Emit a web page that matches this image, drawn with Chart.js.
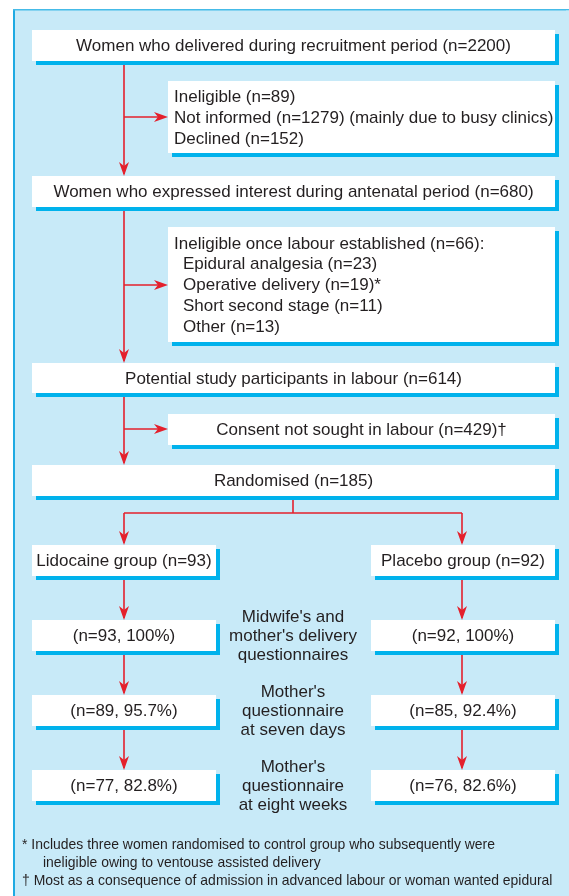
<!DOCTYPE html>
<html>
<head>
<meta charset="utf-8">
<script src="https://cdn.jsdelivr.net/npm/chart.js@4.4.1/dist/chart.umd.min.js"></script>
<style>
  html, body { margin: 0; padding: 0; background: #fff; overflow: hidden; }
  #flow { display: block; }
</style>
</head>
<body>
<canvas id="flow" width="569" height="896"></canvas>
<script>
// main stages of the flow
const stageLabels = ['Women who delivered during recruitment period', 'Women who expressed interest during antenatal period', 'Potential study participants in labour', 'Randomised'];
const stageCounts = [2200, 680, 614, 185];

// exclusions before antenatal interest
const earlyExclLabels = ['Ineligible', 'Not informed', 'Declined'];
const earlyExclCounts = [89, 1279, 152];
const earlyExclNotes = ['', ' (mainly due to busy clinics)', ''];

// exclusions once labour established
const labourExclTitle = 'Ineligible once labour established';
const labourExclTotal = 66;
const labourExclLabels = ['Epidural analgesia', 'Operative delivery', 'Short second stage', 'Other'];
const labourExclCounts = [23, 19, 11, 13];
const labourExclMarks = ['', '*', '', ''];

const consentLabel = 'Consent not sought in labour';
const consentCount = 429;

// arms and follow up
const groupLabels = ['Lidocaine group', 'Placebo group'];
const groupCounts = [93, 92];
const lidocaineN = [93, 89, 77];
const lidocainePct = [100, 95.7, 82.8];
const placeboN = [92, 85, 76];
const placeboPct = [100, 92.4, 82.6];
const followUpLabels = [
  ["Midwife's and", "mother's delivery", 'questionnaires'],
  ["Mother's", 'questionnaire', 'at seven days'],
  ["Mother's", 'questionnaire', 'at eight weeks']
];

const footnotes = [
  '* Includes three women randomised to control group who subsequently were',
  '    ineligible owing to ventouse assisted delivery',
  '\u2020 Most as a consequence of admission in advanced labour or woman wanted epidural'
];

const FONT = "'Liberation Sans', Arial, sans-serif";
const RED = '#e4202c';
const INK = '#231f20';
const PANEL = '#c8eaf8';

function nText(label, n) { return label + ' (n=' + n + ')'; }

// layout (in page units, mapped through the chart's scales)
const rowTops = [545, 620, 695, 770];
const leftCol = { x: 32, w: 184, cx: 124 };
const rightCol = { x: 371, w: 184, cx: 462 };

function buildBoxes() {
  const b = [];
  b.push({ x: 32, y: 30, w: 523, h: 31, lines: [nText(stageLabels[0], stageCounts[0])], align: 'center' });
  b.push({ x: 168, y: 81, w: 387, h: 72, lines: earlyExclLabels.map((l, i) => nText(l, earlyExclCounts[i]) + earlyExclNotes[i]), align: 'left', step: 21 });
  b.push({ x: 32, y: 176, w: 523, h: 31, lines: [nText(stageLabels[1], stageCounts[1])], align: 'center' });
  b.push({ x: 168, y: 227, w: 387, h: 115, lines: [nText(labourExclTitle, labourExclTotal) + ':'].concat(labourExclLabels.map((l, i) => nText(l, labourExclCounts[i]) + labourExclMarks[i])), align: 'left', step: 20.8, indent: 9 });
  b.push({ x: 32, y: 363, w: 523, h: 30, lines: [nText(stageLabels[2], stageCounts[2])], align: 'center' });
  b.push({ x: 168, y: 414, w: 387, h: 31, lines: [nText(consentLabel, consentCount) + '\u2020'], align: 'center' });
  b.push({ x: 32, y: 465, w: 523, h: 31, lines: [nText(stageLabels[3], stageCounts[3])], align: 'center' });
  b.push({ x: leftCol.x, y: rowTops[0], w: leftCol.w, h: 31, lines: [nText(groupLabels[0], groupCounts[0])], align: 'center' });
  b.push({ x: rightCol.x, y: rowTops[0], w: rightCol.w, h: 31, lines: [nText(groupLabels[1], groupCounts[1])], align: 'center' });
  for (let i = 0; i < 3; i++) {
    b.push({ x: leftCol.x, y: rowTops[i + 1], w: leftCol.w, h: 31, lines: ['(n=' + lidocaineN[i] + ', ' + lidocainePct[i] + '%)'], align: 'center' });
    b.push({ x: rightCol.x, y: rowTops[i + 1], w: rightCol.w, h: 31, lines: ['(n=' + placeboN[i] + ', ' + placeboPct[i] + '%)'], align: 'center' });
  }
  return b;
}

function arrowHead(ctx, x, y, dir) {
  // tip at (x, y)
  const len = 14, half = 5, notch = 4;
  ctx.beginPath();
  if (dir === 'down') {
    ctx.moveTo(x, y);
    ctx.lineTo(x - half, y - len);
    ctx.lineTo(x, y - len + notch);
    ctx.lineTo(x + half, y - len);
  } else {
    ctx.moveTo(x, y);
    ctx.lineTo(x - len, y - half);
    ctx.lineTo(x - len + notch, y);
    ctx.lineTo(x - len, y + half);
  }
  ctx.closePath();
  ctx.fill();
}

const flowPlugin = {
  id: 'flowPlugin',
  afterDraw(chart) {
    const ctx = chart.ctx;
    const sx = chart.scales.x, sy = chart.scales.y;
    const X = v => sx.getPixelForValue(v);
    const Y = v => sy.getPixelForValue(v);
    const W = ctx.canvas.width, H = ctx.canvas.height;
    ctx.save();

    // panel
    ctx.fillStyle = PANEL;
    ctx.fillRect(X(13), Y(9), W - X(13), H - Y(9));
    ctx.fillStyle = '#1eaae2';
    ctx.fillRect(X(13), Y(9), 2, H - Y(9));
    ctx.fillStyle = '#45bbe8';
    ctx.fillRect(X(13), Y(9), W - X(13), 1.5);

    // connector lines
    ctx.strokeStyle = RED;
    ctx.fillStyle = RED;
    ctx.lineWidth = 1.6;
    const seg = (x1, y1, x2, y2) => { ctx.beginPath(); ctx.moveTo(X(x1), Y(y1)); ctx.lineTo(X(x2), Y(y2)); ctx.stroke(); };
    seg(124, 61, 124, 174); arrowHead(ctx, X(124), Y(176), 'down');
    seg(124, 117, 165, 117); arrowHead(ctx, X(168), Y(117), 'right');
    seg(124, 207, 124, 361); arrowHead(ctx, X(124), Y(363), 'down');
    seg(124, 285, 165, 285); arrowHead(ctx, X(168), Y(285), 'right');
    seg(124, 393, 124, 463); arrowHead(ctx, X(124), Y(465), 'down');
    seg(124, 429, 165, 429); arrowHead(ctx, X(168), Y(429), 'right');
    seg(293, 496, 293, 513);
    seg(124, 513, 462, 513);
    [leftCol.cx, rightCol.cx].forEach(cx => {
      seg(cx, 513, cx, 543); arrowHead(ctx, X(cx), Y(545), 'down');
      for (let i = 0; i < 3; i++) {
        seg(cx, rowTops[i] + 31, cx, rowTops[i + 1] - 2);
        arrowHead(ctx, X(cx), Y(rowTops[i + 1]), 'down');
      }
    });

    // boxes
    ctx.font = '17px ' + FONT;
    ctx.textBaseline = 'middle';
    buildBoxes().forEach(b => {
      const x = X(b.x), y = Y(b.y), w = X(b.x + b.w) - x, h = Y(b.y + b.h) - y;
      ctx.fillStyle = '#00b2ec';
      ctx.fillRect(x + 4, y + 4, w, h);
      ctx.fillStyle = '#ffffff';
      ctx.fillRect(x, y, w, h);
      ctx.fillStyle = INK;
      const step = b.step || 20;
      const cy = y + h / 2 + 1;
      b.lines.forEach((ln, i) => {
        const ly = cy + (i - (b.lines.length - 1) / 2) * step;
        if (b.align === 'center') {
          ctx.textAlign = 'center';
          ctx.fillText(ln, x + w / 2, ly);
        } else {
          ctx.textAlign = 'left';
          const ind = (i > 0 && b.indent) ? b.indent : 0;
          ctx.fillText(ln, x + 6 + ind, ly);
        }
      });
    });

    // follow-up labels in the middle
    ctx.textAlign = 'center';
    followUpLabels.forEach((lines, r) => {
      const cy = rowTops[r + 1] + 16.5;
      lines.forEach((ln, i) => ctx.fillText(ln, X(293), Y(cy + (i - 1) * 19)));
    });

    // footnotes, slightly condensed
    ctx.font = '15px ' + FONT;
    ctx.textAlign = 'left';
    footnotes.forEach((ln, i) => {
      const ind = ln.startsWith('    ') ? 21 : 0;
      ctx.save();
      ctx.translate(X(22 + ind), Y(845 + i * 18));
      ctx.scale(0.93, 1);
      ctx.fillText(ln.trim(), 0, 0);
      ctx.restore();
    });

    // keep the right edge of the panel clean
    ctx.fillStyle = PANEL;
    ctx.fillRect(W - 3, Y(10.5), 3, H);
    ctx.restore();
  }
};

new Chart(document.getElementById('flow'), {
  type: 'scatter',
  data: { datasets: [{ data: [], pointRadius: 0 }] },
  options: {
    responsive: false,
    animation: false,
    events: [],
    layout: { padding: 0 },
    plugins: { legend: { display: false }, tooltip: { enabled: false } },
    scales: {
      x: { type: 'linear', min: 0, max: 569, display: false },
      y: { type: 'linear', min: 0, max: 896, reverse: true, display: false }
    }
  },
  plugins: [flowPlugin]
});
</script>
</body>
</html>
